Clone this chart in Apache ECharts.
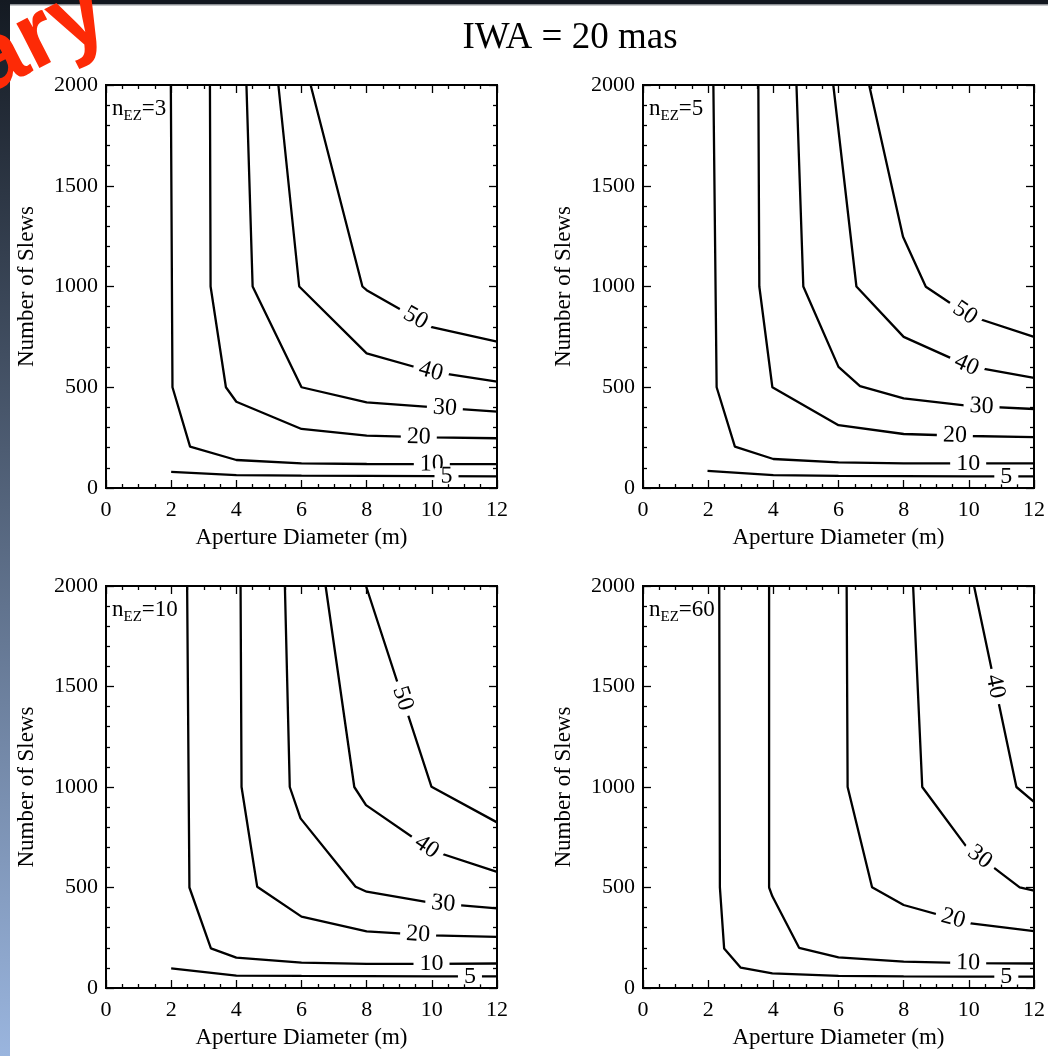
<!DOCTYPE html>
<html>
<head>
<meta charset="utf-8">
<script src="https://cdn.jsdelivr.net/npm/echarts@6/dist/echarts.min.js"></script>
<style>
  html, body { margin: 0; padding: 0; background: #ffffff; }
  #chart { width: 1048px; height: 1056px; }
</style>
</head>
<body>
<div id="chart"></div>
<script>
// Slew-count contours vs. aperture diameter for four exozodi levels (IWA = 20 mas).
const chartTitle = 'IWA = 20 mas';
const xTitle = 'Aperture Diameter (m)';
const yTitle = 'Number of Slews';
const xRange = [0, 12, 2];      // min, max, major step
const yRange = [0, 2000, 500];
const nEzValues = ['3', '5', '10', '60'];

// Each contour: [level, [[diameter, slews], ...]]
const contoursEz3 = [
  [5,  [[2, 80], [4, 64], [6, 61], [8, 60], [10, 59], [12, 58]]],
  [10, [[1.99, 2000], [2.04, 500], [2.58, 205], [4, 139], [6, 122], [8, 119], [10, 118], [12, 118]]],
  [20, [[3.19, 2000], [3.21, 1000], [3.68, 500], [4, 428], [6, 293], [8, 260], [10, 251], [12, 247]]],
  [30, [[4.31, 2000], [4.5, 1000], [6, 500], [8, 425], [10, 401], [12, 379]]],
  [40, [[5.29, 2000], [5.93, 1000], [8, 668], [10, 577], [12, 528]]],
  [50, [[6.28, 2000], [7.87, 1000], [8, 982], [10, 798], [12, 726]]]
];
const contoursEz5 = [
  [5,  [[1.98, 85], [4, 64], [6, 60], [8, 59], [10, 58], [12, 58]]],
  [10, [[2.16, 2000], [2.26, 500], [2.82, 205], [4, 144], [6, 127], [8, 122], [10, 122], [12, 122]]],
  [20, [[3.54, 2000], [3.57, 1000], [3.97, 500], [6, 312], [8, 268], [10, 258], [12, 252]]],
  [30, [[4.71, 2000], [4.92, 1000], [6, 601], [6.66, 506], [8, 445], [10, 408], [12, 392]]],
  [40, [[5.84, 2000], [6.55, 1000], [8, 750], [10, 605], [12, 547]]],
  [50, [[6.94, 2000], [7.98, 1247], [8.68, 999], [10, 856], [12, 750]]]
];
const contoursEz10 = [
  [5,  [[2, 98], [4, 62], [6, 60], [8, 59], [10, 58], [12, 58]]],
  [10, [[2.49, 2000], [2.56, 500], [3.22, 197], [4, 151], [6, 126], [8, 120], [10, 120], [12, 122]]],
  [20, [[4.13, 2000], [4.16, 1000], [4.64, 504], [6, 355], [8, 282], [10, 262], [12, 254]]],
  [30, [[5.49, 2000], [5.64, 1000], [5.97, 844], [7.66, 504], [8, 479], [10, 424], [12, 396]]],
  [40, [[6.74, 2000], [7.62, 1000], [7.98, 910], [10, 684], [12, 578]]],
  [50, [[7.98, 2000], [9.99, 1001], [12, 824]]]
];
const contoursEz60 = [
  [5,  [[2.34, 2000], [2.36, 500], [2.49, 197], [3.0, 101], [3.97, 73], [6, 60], [8, 58], [10, 57], [12, 57]]],
  [10, [[3.87, 2000], [3.87, 500], [3.97, 456], [4.79, 200], [6, 152], [8, 131], [10, 124], [12, 122]]],
  [20, [[6.25, 2000], [6.28, 1000], [7.03, 501], [8, 413], [10, 323], [12, 283]]],
  [30, [[8.29, 2000], [8.57, 1000], [9.93, 702], [11.56, 501], [12, 484]]],
  [40, [[10.16, 2000], [11.46, 1000], [12, 926]]]
];

// Where each contour label sits: [level, axis to search along, coordinate]
const labelsEz3  = [[50, 'x', 9.5], [40, 'x', 9.97], [30, 'x', 10.4], [20, 'x', 9.6], [10, 'x', 10.0], [5, 'x', 10.45]];
const labelsEz5  = [[50, 'x', 9.88], [40, 'x', 9.93], [30, 'x', 10.39], [20, 'x', 9.57], [10, 'x', 9.98], [5, 'x', 11.15]];
const labelsEz10 = [[50, 'y', 1440], [40, 'x', 9.84], [30, 'x', 10.35], [20, 'x', 9.58], [10, 'x', 9.99], [5, 'x', 11.17]];
const labelsEz60 = [[40, 'y', 1500], [30, 'x', 10.34], [20, 'x', 9.52], [10, 'x', 9.98], [5, 'x', 11.15]];

const panels = [
  { nez: nEzValues[0], contours: contoursEz3,  labels: labelsEz3 },
  { nez: nEzValues[1], contours: contoursEz5,  labels: labelsEz5 },
  { nez: nEzValues[2], contours: contoursEz10, labels: labelsEz10 },
  { nez: nEzValues[3], contours: contoursEz60, labels: labelsEz60 }
];

const gridBoxes = [
  { left: 106, top: 85,  width: 391, height: 403 },
  { left: 643, top: 85,  width: 391, height: 403 },
  { left: 106, top: 586, width: 391, height: 402 },
  { left: 643, top: 586, width: 391, height: 402 }
];

const serif = "'Liberation Serif', 'Times New Roman', serif";
const ink = '#000000';

function tickStyle(len) {
  return { show: true, inside: true, length: len, lineStyle: { color: ink, width: 1.3 } };
}

function makeXAxis(i, pos) {
  const main = pos === 'bottom';
  return {
    type: 'value', gridIndex: i, position: pos,
    min: xRange[0], max: xRange[1], interval: xRange[2],
    axisLine: { show: false, onZero: false },
    axisTick: tickStyle(8),
    minorTick: { show: true, splitNumber: 4, length: 4, lineStyle: { color: ink, width: 1.3 } },
    splitLine: { show: false }, minorSplitLine: { show: false },
    axisLabel: { show: main, color: ink, fontFamily: serif, fontSize: 22, margin: 11,
                 formatter: v => String(v) },
    name: main ? xTitle : '', nameLocation: 'middle', nameGap: 38,
    nameTextStyle: { color: ink, fontFamily: serif, fontSize: 23 }
  };
}

function makeYAxis(i, pos) {
  const main = pos === 'left';
  return {
    type: 'value', gridIndex: i, position: pos,
    min: yRange[0], max: yRange[1], interval: yRange[2],
    axisLine: { show: false, onZero: false },
    axisTick: tickStyle(8),
    minorTick: { show: true, splitNumber: 5, length: 4, lineStyle: { color: ink, width: 1.3 } },
    splitLine: { show: false }, minorSplitLine: { show: false },
    axisLabel: { show: main, color: ink, fontFamily: serif, fontSize: 22, margin: 8,
                 formatter: v => String(v) },
    name: main ? yTitle : '', nameLocation: 'middle', nameGap: 68,
    nameTextStyle: { color: ink, fontFamily: serif, fontSize: 23 }
  };
}

const grids = gridBoxes.map(b => Object.assign({
  show: true, borderColor: ink, borderWidth: 2, backgroundColor: 'transparent',
  containLabel: false, outerBoundsMode: 'none'
}, b));

const xAxes = [], yAxes = [];
panels.forEach((p, i) => {
  xAxes.push(makeXAxis(i, 'bottom'));
  xAxes.push(makeXAxis(i, 'top'));
  yAxes.push(makeYAxis(i, 'left'));
  yAxes.push(makeYAxis(i, 'right'));
});

const lineSeries = [];
panels.forEach((p, i) => {
  p.contours.forEach(([level, pts]) => {
    lineSeries.push({
      id: 'c' + i + '_' + level,
      type: 'line', xAxisIndex: 2 * i, yAxisIndex: 2 * i,
      data: pts, showSymbol: false, symbol: 'none', silent: true,
      lineStyle: { color: ink, width: 2.3 }, z: 3, clip: true
    });
  });
});

// Level labels: white-backed text that breaks the contour line, rotated along it.
function labelSeriesFor(i, data) {
  return {
    id: 'lbl' + i, type: 'custom', xAxisIndex: 2 * i, yAxisIndex: 2 * i,
    silent: true, z: 6, clip: false,
    renderItem: function (params, api) {
      const pt = api.coord([api.value(0), api.value(1)]);
      return {
        type: 'text', x: pt[0], y: pt[1], rotation: api.value(3) * Math.PI / 180,
        style: {
          text: String(api.value(2)), fill: ink,
          font: '24px ' + serif, align: 'center', verticalAlign: 'middle',
          backgroundColor: '#ffffff', padding: [0, 6, 0, 6], lineHeight: 16
        }
      };
    },
    data: data
  };
}

const titleGraphics = [
  // slide frame: dark band on top, shaded band on the left
  { type: 'rect', shape: { x: 0, y: 0, width: 1048, height: 5 }, style: { fill: '#12171f' }, z: 10 },
  { type: 'rect', shape: { x: 0, y: 4, width: 1048, height: 1.5 }, style: { fill: '#8c8f94' }, z: 10 },
  { type: 'rect', shape: { x: 0, y: 0, width: 10, height: 1056 }, z: 11,
    style: { fill: new echarts.graphic.LinearGradient(0, 0, 0, 1, [
      { offset: 0, color: '#141a22' }, { offset: 1, color: '#9ab5de' }]) } },
  { type: 'text', x: -4, y: 114, rotation: 27 * Math.PI / 180, z: 20,
    style: { text: 'ary', font: 'bold 95px "Liberation Sans", Arial, sans-serif', fill: '#fd2a06',
             verticalAlign: 'bottom', shadowBlur: 8, shadowColor: 'rgba(0,0,0,0.55)',
             shadowOffsetX: 5, shadowOffsetY: 5 } },
  { type: 'text', x: 570, y: 38, z: 12,
    style: { text: chartTitle, font: '37px ' + serif, fill: ink, align: 'center', verticalAlign: 'middle' } }
];
panels.forEach((p, i) => {
  titleGraphics.push({
    type: 'text', x: gridBoxes[i].left + 6, y: gridBoxes[i].top + 24, z: 12,
    style: {
      text: '{n|n}{s|EZ}{n|=' + p.nez + '}', verticalAlign: 'middle',
      rich: {
        n: { fontFamily: serif, fontSize: 23, lineHeight: 30, fill: ink, color: ink },
        s: { fontFamily: serif, fontSize: 15, lineHeight: 30, verticalAlign: 'bottom', fill: ink, color: ink }
      }
    }
  });
});

const chart = echarts.init(document.getElementById('chart'), null, { renderer: 'canvas' });
chart.setOption({
  animation: false,
  backgroundColor: '#ffffff',
  grid: grids,
  xAxis: xAxes,
  yAxis: yAxes,
  graphic: titleGraphics,
  series: lineSeries.concat(panels.map((p, i) => labelSeriesFor(i, [])))
});

// Find each label's spot on its contour and the local direction of the line there.
function placeLabels() {
  const updates = panels.map((p, i) => {
    const data = p.labels.map(([level, axis, at]) => {
      const pts = p.contours.find(c => c[0] === level)[1];
      const k = axis === 'x' ? 0 : 1;
      for (let s = 0; s < pts.length - 1; s++) {
        const a = pts[s], b = pts[s + 1];
        const lo = Math.min(a[k], b[k]), hi = Math.max(a[k], b[k]);
        if (hi === lo || at < lo || at > hi) continue;
        const t = (at - a[k]) / (b[k] - a[k]);
        const pos = [a[0] + t * (b[0] - a[0]), a[1] + t * (b[1] - a[1])];
        const pa = chart.convertToPixel({ gridIndex: i }, a);
        const pb = chart.convertToPixel({ gridIndex: i }, b);
        let ang = -Math.atan2(pb[1] - pa[1], pb[0] - pa[0]) * 180 / Math.PI;
        if (ang > 90) ang -= 180;
        if (ang < -90) ang += 180;
        return [pos[0], pos[1], level, ang];
      }
      return null;
    }).filter(Boolean);
    return labelSeriesFor(i, data);
  });
  chart.setOption({ series: updates });
}
placeLabels();
</script>
</body>
</html>
